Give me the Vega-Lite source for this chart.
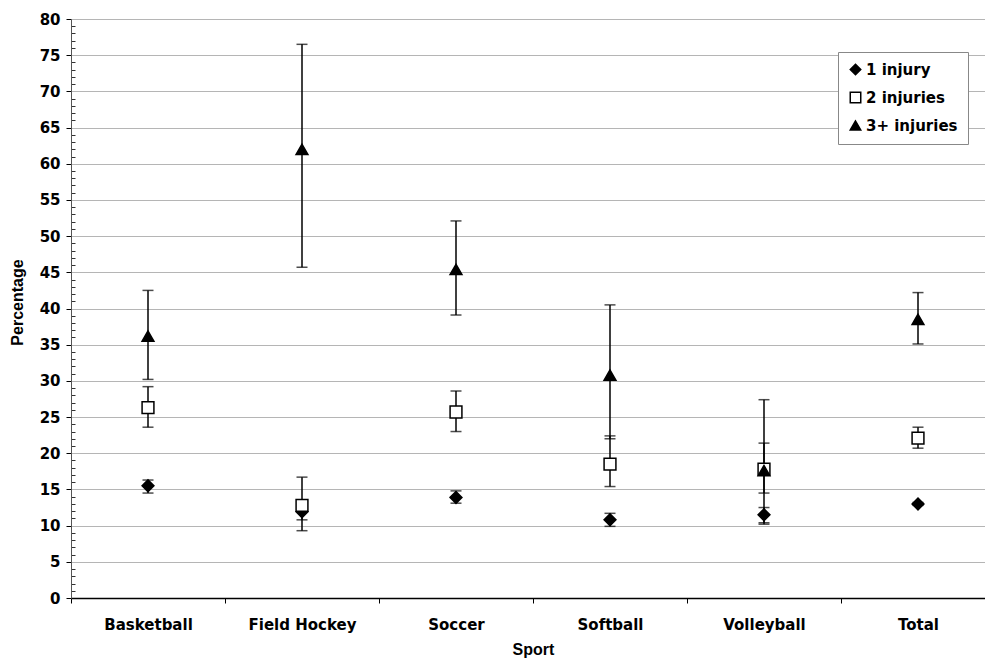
{
  "$schema": "https://vega.github.io/schema/vega-lite/v6.json",
  "autosize": {"type": "none"},
  "padding": {"left": 71, "top": 19, "right": 0, "bottom": 66},
  "width": 924,
  "height": 579,
  "background": "white",
  "config": {
    "font": "DejaVu Sans",
    "view": {"stroke": null},
    "axis": {"labelFont": "DejaVu Sans", "titleFont": "Liberation Sans", "labelFontWeight": "bold", "titleFontWeight": "bold", "labelColor": "black", "titleColor": "black", "labelFontSize": 15, "titleFontSize": 16}
  },
  "data": {
    "values": [
      {"sport": "Basketball", "series": "1 injury", "value": 15.5, "lo": 14.5, "hi": 16.3},
      {"sport": "Basketball", "series": "2 injuries", "value": 26.3, "lo": 23.6, "hi": 29.2},
      {"sport": "Basketball", "series": "3+ injuries", "value": 36.2, "lo": 30.2, "hi": 42.5},
      {"sport": "Field Hockey", "series": "1 injury", "value": 11.9, "lo": 10.8, "hi": 13.0},
      {"sport": "Field Hockey", "series": "2 injuries", "value": 12.8, "lo": 9.3, "hi": 16.7},
      {"sport": "Field Hockey", "series": "3+ injuries", "value": 62.0, "lo": 45.7, "hi": 76.5},
      {"sport": "Soccer", "series": "1 injury", "value": 13.9, "lo": 13.1, "hi": 14.8},
      {"sport": "Soccer", "series": "2 injuries", "value": 25.7, "lo": 23.0, "hi": 28.6},
      {"sport": "Soccer", "series": "3+ injuries", "value": 45.4, "lo": 39.1, "hi": 52.1},
      {"sport": "Softball", "series": "1 injury", "value": 10.8, "lo": 9.9, "hi": 11.7},
      {"sport": "Softball", "series": "2 injuries", "value": 18.5, "lo": 15.4, "hi": 22.4},
      {"sport": "Softball", "series": "3+ injuries", "value": 30.8, "lo": 22.0, "hi": 40.5},
      {"sport": "Volleyball", "series": "1 injury", "value": 11.5, "lo": 10.4, "hi": 12.5},
      {"sport": "Volleyball", "series": "2 injuries", "value": 17.8, "lo": 14.5, "hi": 21.4},
      {"sport": "Volleyball", "series": "3+ injuries", "value": 17.6, "lo": 10.2, "hi": 27.4},
      {"sport": "Total", "series": "1 injury", "value": 13.0, "lo": 12.8, "hi": 13.2},
      {"sport": "Total", "series": "2 injuries", "value": 22.1, "lo": 20.7, "hi": 23.6},
      {"sport": "Total", "series": "3+ injuries", "value": 38.5, "lo": 35.1, "hi": 42.2}
    ]
  },
  "encoding": {
    "x": {
      "field": "sport", "type": "nominal", "sort": null,
      "scale": {"paddingInner": 0, "paddingOuter": 0},
      "axis": {"title": "Sport", "labelAngle": 0, "tickBand": "extent", "domainColor": "black", "domainWidth": 1.5, "tickColor": "black", "tickSize": 5, "labelPadding": 14, "titlePadding": 9}
    }
  },
  "resolve": {"axis": {"y": "independent"}},
  "layer": [
    {
      "mark": {"type": "point", "opacity": 0},
      "encoding": {
        "y": {"field": "value", "type": "quantitative", "scale": {"domain": [0, 80]},
          "axis": {"orient": "left", "title": null, "values": [1,2,3,4,6,7,8,9,11,12,13,14,16,17,18,19,21,22,23,24,26,27,28,29,31,32,33,34,36,37,38,39,41,42,43,44,46,47,48,49,51,52,53,54,56,57,58,59,61,62,63,64,66,67,68,69,71,72,73,74,76,77,78,79], "labels": false, "domain": false, "grid": false, "tickSize": -4, "tickColor": "#333333", "tickWidth": 1}}
      }
    },
    {
      "layer": [
        {
          "mark": {"type": "rule", "color": "black", "strokeWidth": 1.5},
          "encoding": {
            "y": {"field": "lo", "type": "quantitative", "scale": {"domain": [0, 80]},
              "axis": {"orient": "left", "title": "Percentage", "titleX": -46, "titleY": 283, "titleBaseline": "bottom", "titleAlign": "center", "values": [0,5,10,15,20,25,30,35,40,45,50,55,60,65,70,75,80], "grid": true, "gridColor": "#b5b5b5", "gridWidth": 1.2, "domainColor": "#555555", "tickColor": "black", "tickSize": 5, "labelPadding": 6}},
            "y2": {"field": "hi"}
          }
        },
        {
          "mark": {"type": "tick", "color": "black", "size": 11, "thickness": 1.5},
          "encoding": {"y": {"field": "lo", "type": "quantitative",
              "axis": {"orient": "left", "title": "Percentage", "titleX": -46, "titleY": 283, "titleBaseline": "bottom", "titleAlign": "center", "values": [0,5,10,15,20,25,30,35,40,45,50,55,60,65,70,75,80], "grid": true, "gridColor": "#b5b5b5", "gridWidth": 1.2, "domainColor": "#555555", "tickColor": "black", "tickSize": 5, "labelPadding": 6}}}
        },
        {
          "mark": {"type": "tick", "color": "black", "size": 11, "thickness": 1.5},
          "encoding": {"y": {"field": "hi", "type": "quantitative",
              "axis": {"orient": "left", "title": "Percentage", "titleX": -46, "titleY": 283, "titleBaseline": "bottom", "titleAlign": "center", "values": [0,5,10,15,20,25,30,35,40,45,50,55,60,65,70,75,80], "grid": true, "gridColor": "#b5b5b5", "gridWidth": 1.2, "domainColor": "#555555", "tickColor": "black", "tickSize": 5, "labelPadding": 6}}}
        },
        {
          "mark": {"type": "point", "opacity": 1, "stroke": "black", "strokeWidth": 1.5, "size": 140},
          "encoding": {
            "y": {"field": "value", "type": "quantitative",
              "axis": {"orient": "left", "title": "Percentage", "titleX": -46, "titleY": 283, "titleBaseline": "bottom", "titleAlign": "center", "values": [0,5,10,15,20,25,30,35,40,45,50,55,60,65,70,75,80], "grid": true, "gridColor": "#b5b5b5", "gridWidth": 1.2, "domainColor": "#555555", "tickColor": "black", "tickSize": 5, "labelPadding": 6}},
            "shape": {"field": "series", "type": "nominal",
              "scale": {"domain": ["1 injury", "2 injuries", "3+ injuries"], "range": ["diamond", "square", "triangle-up"]},
              "legend": {"title": null, "orient": "none", "legendX": 767, "legendY": 33, "strokeColor": "#888888", "fillColor": "white", "padding": 10, "labelFontSize": 15, "labelFontWeight": "bold", "labelFont": "DejaVu Sans", "labelColor": "black", "symbolSize": 110, "symbolStrokeWidth": 1.5, "rowPadding": 11, "labelOffset": 3}},
            "fill": {"field": "series", "type": "nominal",
              "scale": {"domain": ["1 injury", "2 injuries", "3+ injuries"], "range": ["black", "white", "black"]},
              "legend": {"title": null, "orient": "none", "legendX": 767, "legendY": 33, "strokeColor": "#888888", "fillColor": "white", "padding": 10, "labelFontSize": 15, "labelFontWeight": "bold", "labelFont": "DejaVu Sans", "labelColor": "black", "symbolSize": 110, "symbolStrokeWidth": 1.5, "rowPadding": 11, "labelOffset": 3}}
          }
        }
      ]
    }
  ]
}
